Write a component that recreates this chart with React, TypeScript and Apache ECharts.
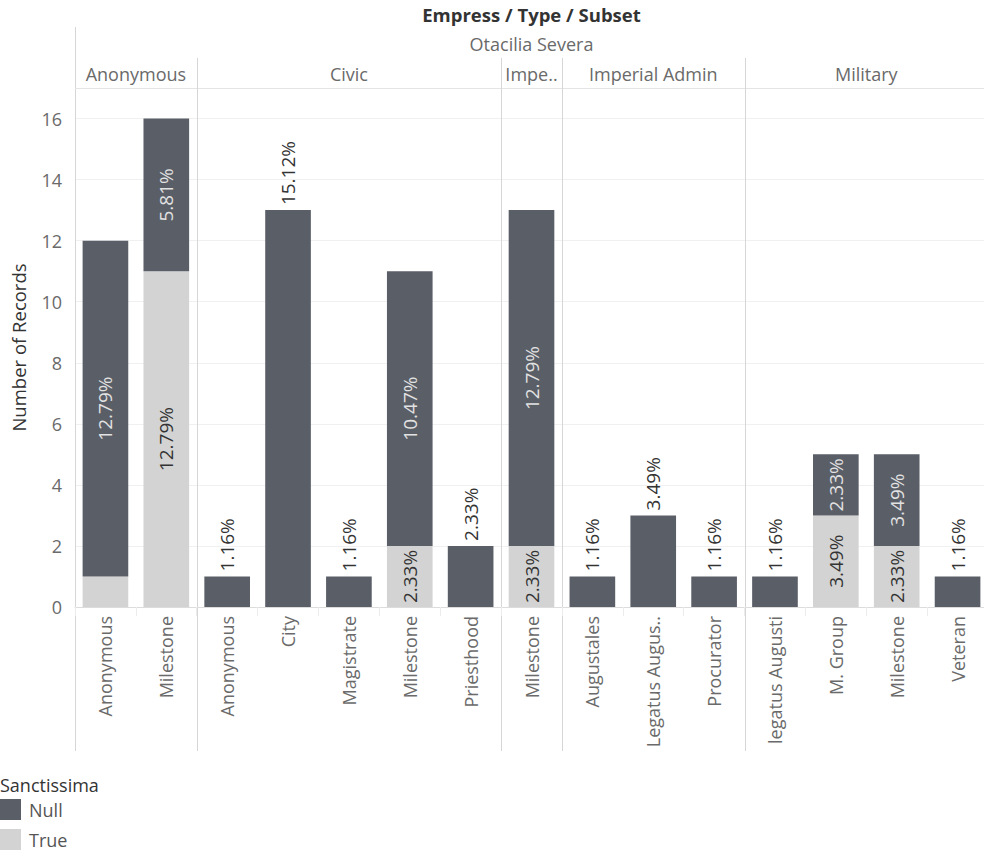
import React, { useEffect, useRef } from "react";
import * as echarts from "echarts";

const empress = "Otacilia Severa";
const typeOf = [
  "Anonymous", "Anonymous",
  "Civic", "Civic", "Civic", "Civic", "Civic",
  "Impe..",
  "Imperial Admin", "Imperial Admin", "Imperial Admin",
  "Military", "Military", "Military", "Military",
];
const subsets = [
  "Anonymous", "Milestone",
  "Anonymous", "City", "Magistrate", "Milestone", "Priesthood",
  "Milestone",
  "Augustales", "Legatus Augus..", "Procurator",
  "legatus Augusti", "M. Group", "Milestone", "Veteran",
];
const nullValues = [11, 5, 1, 13, 1, 9, 2, 11, 1, 3, 1, 1, 2, 3, 1];
const trueValues = [1, 11, 0, 0, 0, 2, 0, 2, 0, 0, 0, 0, 3, 2, 0];
const yTicks = [0, 2, 4, 6, 8, 10, 12, 14, 16];

const FONT = "Open Sans";
const DARK = "#5a5e67";
const LIGHT = "#d3d3d3";

export default function App() {
  const ref = useRef<HTMLDivElement>(null);
  useEffect(() => {
    document.body.style.margin = "0";
    if (!ref.current) return;
    const chart = echarts.init(ref.current, undefined, { renderer: "svg" });
    const total = [...nullValues, ...trueValues].reduce((a, b) => a + b, 0);
    const pct = (v: number) => ((v / total) * 100).toFixed(2) + "%";
    const keys = subsets.map((s, i) => typeOf[i] + "|" + s);

    const insideLabel = (color: string) => ({
      show: true,
      position: "inside",
      rotate: 90,
      align: "center",
      verticalAlign: "middle",
      color,
      fontSize: 19,
      fontFamily: FONT,
      formatter: (p: any) => pct(p.value),
    });
    const topLabel = {
      show: true,
      position: "top",
      rotate: 90,
      align: "left",
      verticalAlign: "middle",
      distance: 5,
      color: "#333",
      fontSize: 19,
      fontFamily: FONT,
      formatter: (p: any) => pct(p.value),
    };

    const gridLeft = 75;
    const gridTop = 88;
    const gridW = 913;
    const gridH = 519;

    chart.setOption({
      animation: false,
      textStyle: { fontFamily: FONT },
      grid: {
        left: gridLeft,
        top: gridTop,
        width: gridW,
        height: gridH,
        containLabel: false,
        outerBoundsMode: "none",
      },
      legend: {
        data: ["Null", "True"],
        orient: "vertical",
        left: 0,
        top: 799,
        padding: 0,
        icon: "rect",
        itemWidth: 21,
        itemHeight: 21,
        itemGap: 9,
        textStyle: { fontSize: 18, color: "#555", fontFamily: FONT, padding: [0, 0, 0, 3] },
      },
      xAxis: {
        type: "category",
        data: keys,
        axisLine: { lineStyle: { color: "#dcdcdc" } },
        axisTick: { show: true, interval: 0, length: 9, lineStyle: { color: "#ececec" } },
        axisLabel: {
          interval: 0,
          rotate: 90,
          margin: 9,
          color: "#6a6a6a",
          fontSize: 18,
          fontFamily: FONT,
          formatter: (v: string) => v.split("|")[1],
        },
      },
      yAxis: {
        type: "value",
        min: 0,
        max: 17,
        interval: 2,
        name: "Number of Records",
        nameLocation: "middle",
        nameGap: 47,
        nameTextStyle: { color: "#333", fontSize: 18.5, fontFamily: FONT },
        axisLine: { show: false },
        axisTick: { show: false },
        axisLabel: {
          color: "#6a6a6a",
          fontSize: 18,
          fontFamily: FONT,
          margin: 13,
          showMaxLabel: false,
          formatter: (v: number) => (yTicks.includes(v) ? String(v) : ""),
        },
        splitLine: { lineStyle: { color: "#f0f0f0" } },
      },
      series: [
        {
          name: "True",
          type: "bar",
          stack: "s",
          barCategoryGap: "25%",
          itemStyle: { color: LIGHT },
          data: trueValues.map((v) => ({
            value: v,
            label: v >= 2 ? insideLabel("#333") : { show: false },
          })),
        },
        {
          name: "Null",
          type: "bar",
          stack: "s",
          barCategoryGap: "25%",
          itemStyle: { color: DARK },
          data: nullValues.map((v, i) => ({
            value: v,
            label: trueValues[i] > 0 ? insideLabel("#e2e2e2") : topLabel,
          })),
        },
      ],
    });

    // Facet headers & separators computed from the axis scale
    const centers = keys.map((_, i) => chart.convertToPixel({ xAxisIndex: 0 }, i) as number);
    const bw = keys.length > 1 ? centers[1] - centers[0] : gridW;
    const groups: { name: string; start: number; end: number }[] = [];
    typeOf.forEach((t, i) => {
      const last = groups[groups.length - 1];
      if (last && last.name === t) last.end = i;
      else groups.push({ name: t, start: i, end: i });
    });
    const plotLeft = centers[0] - bw / 2;
    const plotRight = centers[centers.length - 1] + bw / 2;
    const midX = (plotLeft + plotRight) / 2;
    const lineColor = "#d6d6d6";
    const graphics: any[] = [
      {
        type: "text",
        x: midX,
        y: 14,
        style: { text: "Empress / Type / Subset", font: `bold 18.5px "${FONT}"`, fill: "#333", align: "center", verticalAlign: "middle" },
      },
      {
        type: "text",
        x: midX,
        y: 44,
        style: { text: empress, font: `18px "${FONT}"`, fill: "#6a6a6a", align: "center", verticalAlign: "middle" },
      },
      {
        type: "line",
        shape: { x1: Math.round(plotLeft) + 0.5, y1: 27, x2: Math.round(plotLeft) + 0.5, y2: 751 },
        style: { stroke: lineColor, lineWidth: 1 },
      },
      {
        type: "line",
        shape: { x1: plotLeft, y1: gridTop + 0.5, x2: plotRight, y2: gridTop + 0.5 },
        style: { stroke: "#e4e4e4", lineWidth: 1 },
      },
      {
        type: "text",
        x: 0,
        y: 785,
        style: { text: "Sanctissima", font: `18px "${FONT}"`, fill: "#333", align: "left", verticalAlign: "middle" },
      },
    ];
    groups.forEach((g, gi) => {
      const x0 = centers[g.start] - bw / 2;
      const x1 = centers[g.end] + bw / 2;
      graphics.push({
        type: "text",
        x: (x0 + x1) / 2,
        y: 74,
        style: { text: g.name, font: `18px "${FONT}"`, fill: "#6a6a6a", align: "center", verticalAlign: "middle" },
      });
      if (gi > 0) {
        graphics.push({
          type: "line",
          shape: { x1: Math.round(x0) + 0.5, y1: 58, x2: Math.round(x0) + 0.5, y2: 751 },
          style: { stroke: lineColor, lineWidth: 1 },
        });
      }
    });
    chart.setOption({ graphic: graphics });

    return () => chart.dispose();
  }, []);
  return <div ref={ref} style={{ width: 984, height: 855 }} />;
}
